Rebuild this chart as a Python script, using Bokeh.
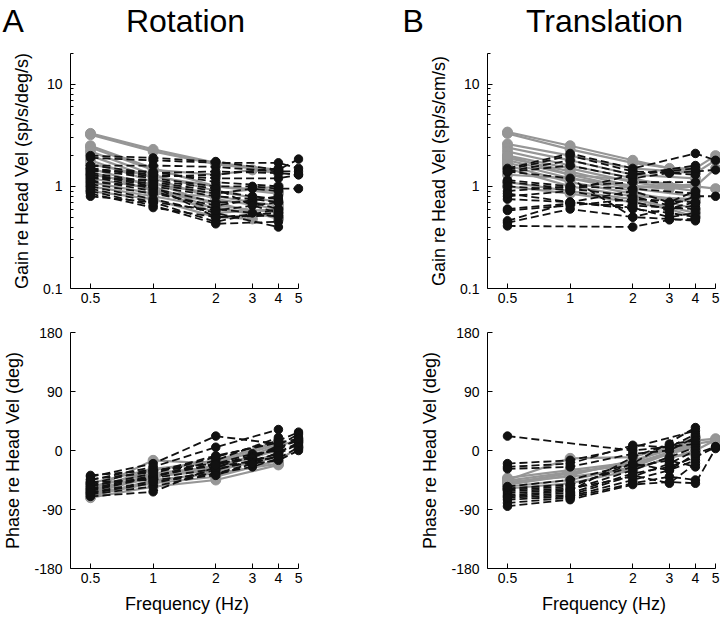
from bokeh.plotting import figure
from bokeh.models import Range1d, FixedTicker, CustomJSTickFormatter
from bokeh.layouts import column, row
from bokeh.embed import file_html
from bokeh.resources import INLINE

N = None
FREQS = [0.5, 1, 2, 3, 4, 5]

# ---- Rotation gain (sp/s/deg/s) ----
ROT_GAIN_GRAY = [
    [3.3, 2.3, 1.7, N, 1.45, N],
    [3.2, 2.2, 1.65, N, 1.4, N],
    [2.5, 1.5, 1.0, N, 0.85, N],
    [2.4, 1.45, 1.3, 1.45, 1.35, N],
    [2.2, 1.3, 0.9, N, 0.7, N],
    [2.0, 1.2, 0.75, N, 0.6, N],
    [1.8, 1.1, 0.65, N, 0.55, N],
    [1.65, 1.25, 1.0, N, 0.9, N],
    [1.5, 1.0, 0.6, N, 0.5, N],
    [1.4, 0.9, 0.7, N, 0.48, N],
    [1.3, 1.05, 0.85, N, 1.0, N],
    [1.2, 0.95, 0.55, N, 0.6, N],
    [1.1, 0.85, 0.8, 0.7, 0.65, N],
    [1.0, 0.8, 0.62, N, 0.5, N],
    [0.9, 0.75, 0.5, 0.48, N, N],
]
ROT_GAIN_BLACK = [
    [2.0, 1.9, 1.75, N, 1.45, 1.85],
    [1.9, 1.8, 1.7, N, 1.7, 1.5],
    [1.6, 1.6, 1.55, N, 1.4, 1.4],
    [1.5, 1.3, 1.2, N, 1.2, 1.3],
    [1.45, 1.2, 1.0, 1.0, 0.95, 0.95],
    [1.4, 1.4, 1.1, N, 1.0, N],
    [1.35, 1.1, 0.9, 0.8, 0.75, N],
    [1.3, 1.0, 0.8, 0.75, 0.7, N],
    [1.25, 0.95, 0.7, 0.7, 0.6, N],
    [1.2, 1.15, 0.95, 0.65, 0.55, N],
    [1.15, 0.9, 0.6, 0.55, 0.5, N],
    [1.1, 1.0, 0.5, N, 0.55, N],
    [1.05, 0.85, 0.65, N, 0.8, N],
    [1.0, 0.75, 0.55, N, 0.4, N],
    [0.95, 0.7, 0.45, N, 0.6, N],
    [0.9, 0.65, 0.43, N, 0.45, N],
    [0.85, 0.62, 0.5, N, 0.52, N],
    [0.8, 0.7, 0.58, N, 0.7, N],
    [1.5, 1.25, 1.3, N, 1.5, N],
    [1.3, 1.05, 0.85, 0.95, 0.9, N],
    [1.6, 1.35, 1.4, N, 1.35, 1.3],
]

# ---- Translation gain (sp/s/cm/s) ----
TRA_GAIN_GRAY = [
    [3.4, 2.5, 1.8, 1.5, 1.5, 2.0],
    [3.3, 2.3, 1.7, N, 1.4, N],
    [2.6, 2.0, 1.5, N, 1.35, 1.8],
    [2.4, 1.8, 1.3, N, 1.2, N],
    [2.2, 1.6, 1.2, 1.0, 1.0, 0.95],
    [2.0, 1.5, 1.1, N, 0.9, N],
    [1.9, 1.4, 1.0, 1.0, 1.05, N],
    [1.8, 1.3, 0.95, N, 0.8, N],
    [1.7, 1.2, 0.9, 0.7, 0.6, N],
    [1.6, 1.1, 0.85, N, 0.7, N],
    [1.5, 1.0, 0.8, N, 0.75, N],
    [1.3, 1.2, 1.0, 0.95, 1.0, N],
    [1.1, 0.9, 0.75, N, 0.55, N],
    [1.0, 0.85, 0.7, 0.6, 0.5, N],
    [2.0, 1.3, 1.15, N, 1.0, 1.5],
]
TRA_GAIN_BLACK = [
    [1.5, 2.1, 1.5, N, 2.1, 1.8],
    [1.45, 2.0, 1.4, 1.35, 1.4, 1.45],
    [1.4, 1.8, 1.3, N, 1.6, N],
    [1.38, 1.6, 1.2, 1.35, 1.3, N],
    [1.4, 1.2, 0.5, N, 0.7, N],
    [1.15, 1.0, 1.1, N, 1.1, N],
    [1.1, 0.95, 0.8, 0.65, 0.8, 0.8],
    [0.9, 1.0, 0.95, N, 0.85, N],
    [0.8, 0.9, 0.7, 0.6, 0.65, N],
    [0.75, 0.7, 0.6, 0.55, 0.5, N],
    [0.6, 0.68, 0.65, N, 0.6, N],
    [0.58, 0.65, 0.75, N, 0.7, N],
    [0.46, 0.7, 0.62, 0.5, 0.55, N],
    [0.44, 0.6, 0.5, 0.48, 0.46, N],
    [0.41, N, 0.4, 0.47, 0.48, N],
    [1.0, 0.92, 1.3, N, 1.5, N],
    [0.85, 0.7, 0.9, 0.7, 0.9, N],
]

# ---- Rotation phase (deg) ----
ROT_PHASE_GRAY = [
    [-70, -45, -35, N, -20, N],
    [-65, -40, -30, N, -10, N],
    [-60, -15, -20, N, 10, N],
    [-55, -35, -25, N, 0, N],
    [-68, -50, -40, N, -15, 5],
    [-62, -42, -22, -12, 5, N],
    [-58, -30, -15, N, 12, N],
    [-72, -55, -45, N, -22, N],
    [-50, -28, -18, N, 15, N],
    [-66, -48, -32, N, -5, N],
    [-60, -38, -28, N, 8, 15],
]
ROT_PHASE_BLACK = [
    [-40, -20, 22, N, 10, N],
    [-45, -25, 5, N, 32, N],
    [-55, -35, -10, N, 15, 28],
    [-60, -40, -20, -5, 0, 20],
    [-65, -50, -30, -15, -5, 10],
    [-70, -63, -25, N, -10, N],
    [-50, -30, -25, -10, 5, 15],
    [-48, -45, -35, -20, -15, 0],
    [-62, -40, -15, N, 20, N],
    [-38, -30, -20, -12, 8, 25],
    [-67, -55, -35, -25, -12, 5],
    [-52, -42, -28, -18, -3, 12],
    [-58, -38, -22, N, 2, N],
    [-44, -33, -8, N, 12, 18],
    [-64, -47, -38, -20, -8, N],
]

# ---- Translation phase (deg) ----
TRA_PHASE_GRAY = [
    [-45, -12, -10, N, 15, 18],
    [-50, -35, -20, N, 10, 15],
    [-55, -45, -25, -5, 5, N],
    [-42, -30, -18, N, 20, N],
    [-48, -40, -28, N, 0, 16],
    [-52, -38, -15, N, 12, N],
    [-58, -50, -30, -10, -5, N],
    [-46, -33, -22, N, 8, N],
]
TRA_PHASE_BLACK = [
    [22, N, 0, N, 10, N],
    [-20, -15, 5, N, 30, N],
    [-25, -20, 8, 5, 25, N],
    [-28, -25, -5, 0, 20, N],
    [-60, -55, -20, N, 35, N],
    [-65, -60, -30, -10, 5, N],
    [-70, -65, -35, -25, -10, 5],
    [-75, -70, -45, -30, -15, N],
    [-80, -72, -50, -40, -45, N],
    [-85, -75, -52, -48, -50, 3],
    [-58, -52, -25, -15, -25, N],
    [-62, -58, -40, -20, 0, N],
    [-68, -62, -10, 10, 15, N],
    [-55, -45, -20, -30, -5, 6],
    [-72, -68, -38, -50, -20, N],
]

X_TICKS = [0.5, 1, 2, 3, 4, 5]
GAIN_TICKS = [0.1, 1, 10]
GAIN_MINOR = [0.2, 0.3, 0.4, 0.5, 0.6, 0.7, 0.8, 0.9, 2, 3, 4, 5, 6, 7, 8, 9, 20]
PHASE_TICKS = [-180, -90, 0, 90, 180]
PANEL_LETTERS = ["A", "B"]
PANEL_TITLES = ["Rotation", "Translation"]

FONT = "Liberation Sans"
GRAY = "#969696"
BLACK = "#111111"
X_START, X_END = 0.4008, 5.28

FMT = CustomJSTickFormatter(code="return String(tick)")


def make_panel(gray, black, kind, width, height, bl, br, bt, bb, ylabel, xlabel):
    if kind == "gain":
        p = figure(x_axis_type="log", y_axis_type="log",
                   x_range=Range1d(X_START, X_END), y_range=Range1d(0.1, 20),
                   width=width, height=height, output_backend="svg",
                   toolbar_location=None)
        p.yaxis.ticker = FixedTicker(ticks=GAIN_TICKS, minor_ticks=GAIN_MINOR)
    else:
        p = figure(x_axis_type="log",
                   x_range=Range1d(X_START, X_END), y_range=Range1d(-180, 180),
                   width=width, height=height, output_backend="svg",
                   toolbar_location=None)
        p.yaxis.ticker = FixedTicker(ticks=PHASE_TICKS, minor_ticks=[])
    p.min_border_left = bl
    p.min_border_right = br
    p.min_border_top = bt
    p.min_border_bottom = bb
    p.outline_line_color = None
    p.xgrid.visible = False
    p.ygrid.visible = False
    p.background_fill_color = "white"
    p.border_fill_color = "white"

    p.xaxis.ticker = FixedTicker(ticks=X_TICKS, minor_ticks=[])
    p.xaxis.bounds = (X_START, 5)
    for ax in (p.xaxis[0], p.yaxis[0]):
        ax.formatter = FMT
        ax.major_tick_in = 5
        ax.major_tick_out = 0
        ax.minor_tick_in = 3
        ax.minor_tick_out = 0
        ax.axis_line_color = "black"
        ax.axis_line_width = 1
        ax.major_tick_line_color = "black"
        ax.minor_tick_line_color = "black"
        ax.major_label_text_font = FONT
        ax.major_label_text_font_size = "14px"
        ax.major_label_text_color = "black"
        ax.axis_label_text_font = FONT
        ax.axis_label_text_font_size = "18px"
        ax.axis_label_text_font_style = "normal"
        ax.axis_label_text_color = "black"
    p.xaxis.major_label_standoff = 4
    p.yaxis.major_label_standoff = 8
    p.yaxis.axis_label = ylabel
    p.yaxis.axis_label_standoff = 8
    if xlabel:
        p.xaxis.axis_label = xlabel
        p.xaxis.axis_label_standoff = 8

    for series in gray:
        xs = [f for f, v in zip(FREQS, series) if v is not None]
        ys = [v for v in series if v is not None]
        p.line(xs, ys, line_color=GRAY, line_width=2.2)
        p.scatter(xs, ys, size=10, fill_color=GRAY, line_color=GRAY)
    for series in black:
        xs = [f for f, v in zip(FREQS, series) if v is not None]
        ys = [v for v in series if v is not None]
        p.line(xs, ys, line_color=BLACK, line_width=1.8, line_dash="8 4")
        p.scatter(xs, ys, size=8.5, fill_color=BLACK, line_color=BLACK)
    return p


# header strip: one blank figure per text, the text carried by its title
HEADER_H = 48


def header_cell(text, width, align, offset):
    h = figure(width=width, height=HEADER_H, title=text,
               x_range=Range1d(0, 1), y_range=Range1d(0, 1),
               x_axis_location=None, y_axis_location=None, output_backend="svg",
               toolbar_location=None, min_border=0)
    h.min_border_top = 3
    h.outline_line_color = None
    h.xgrid.visible = False
    h.ygrid.visible = False
    h.title.text_font = FONT
    h.title.text_font_size = "32px"
    h.title.text_font_style = "normal"
    h.title.text_color = "black"
    h.title.align = align
    h.title.offset = offset
    h.title.standoff = 0
    return h


header = row(header_cell(PANEL_LETTERS[0], 60, "left", 2),
             header_cell(PANEL_TITLES[0], 250, "center", 0),
             header_cell(PANEL_LETTERS[1], 178, "left", 92),
             header_cell(PANEL_TITLES[1], 232, "center", 0))

tl = make_panel(ROT_GAIN_GRAY, ROT_GAIN_BLACK, "gain", 360, 263, 70, 57, 5, 23,
                "Gain re Head Vel (sp/s/deg/s)", None)
tr = make_panel(TRA_GAIN_GRAY, TRA_GAIN_BLACK, "gain", 360, 263, 127, 0, 5, 23,
                "Gain re Head Vel (sp/s/cm/s)", None)
bl = make_panel(ROT_PHASE_GRAY, ROT_PHASE_BLACK, "phase", 360, 306, 70, 57, 21, 49,
                "Phase re Head Vel (deg)", "Frequency (Hz)")
br = make_panel(TRA_PHASE_GRAY, TRA_PHASE_BLACK, "phase", 360, 306, 127, 0, 21, 49,
                "Phase re Head Vel (deg)", "Frequency (Hz)")

layout = column(header, row(tl, tr), row(bl, br))

with open("out.html", "w") as fh:
    fh.write(file_html(layout, INLINE))
